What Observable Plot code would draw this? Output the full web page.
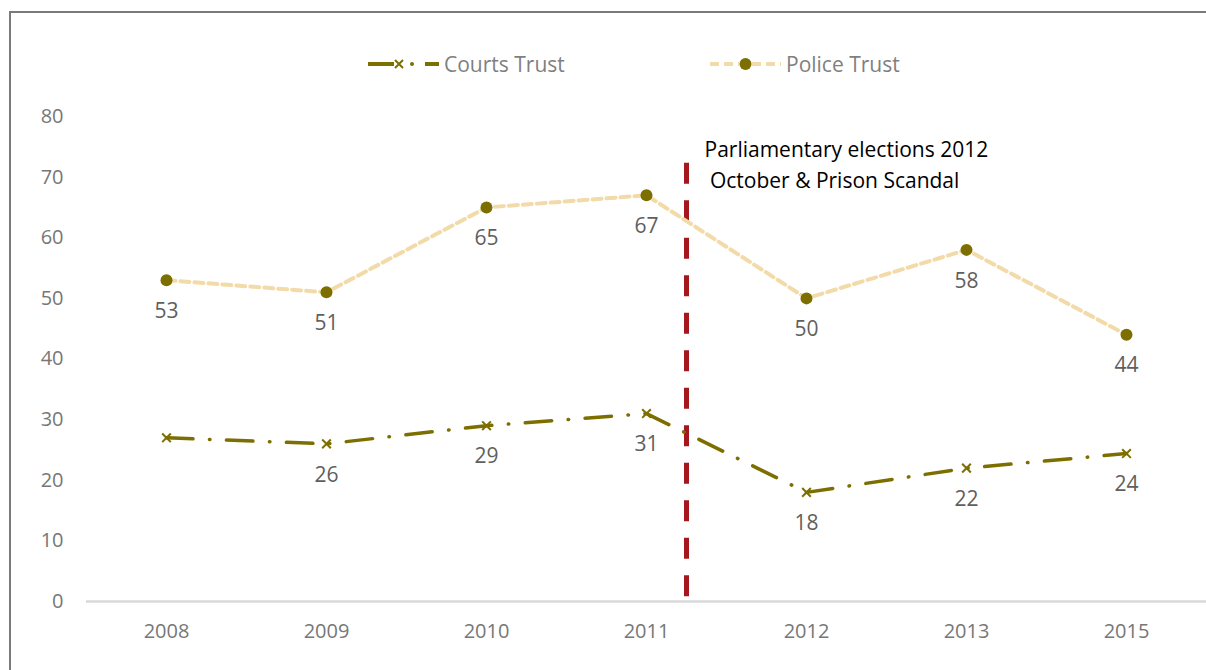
<!DOCTYPE html>
<html>
<head>
<meta charset="utf-8">
<script src="https://cdn.jsdelivr.net/npm/d3@7"></script>
<script src="https://cdn.jsdelivr.net/npm/@observablehq/plot@0.6"></script>
<style>
  html, body { margin: 0; padding: 0; background: #fff; overflow: hidden; }
  #wrap { position: relative; width: 1206px; height: 670px; overflow: hidden; font-family: "Open Sans", sans-serif; }
  #frame { position: absolute; left: 0; top: 0; }
  #chart { position: absolute; left: 0; top: 0; }
  .leg { position: absolute; top: 50px; display: flex; align-items: center; font-size: 21px; color: #7f7f7f; }
  .leg svg { display: block; margin-right: 3px; }
</style>
</head>
<body>
<div id="wrap">
  <svg id="frame" width="1206" height="670"><path d="M10,670V12H1206" fill="none" stroke="#7a7a7a" stroke-width="2"/></svg>
  <div id="chart"></div>
  <div class="leg" id="legCourts" style="left:366px"></div>
  <div class="leg" id="legPolice" style="left:708px"></div>
</div>
<script>
// ---- data ----
const years = ["2008", "2009", "2010", "2011", "2012", "2013", "2015"];
const courtsTrust = [27, 26, 29, 31, 18, 22, 24.4];
const policeTrust = [53, 51, 65, 67, 50, 58, 44];
const courtsLabels = ["", "26", "29", "31", "18", "22", "24"];
const policeLabels = ["53", "51", "65", "67", "50", "58", "44"];
const yTicks = [0, 10, 20, 30, 40, 50, 60, 70, 80];
const seriesNames = ["Courts Trust", "Police Trust"];
// event marker: between 2011 and 2012 (October 2012)
const eventPos = [3.25];
const eventSpan = [72.3, 0.6];
const eventText = ["Parliamentary elections 2012\n\u00a0October & Prison Scandal"];
const eventTextY = [72.4];

// ---- styles ----
const olive = "#7d6e00";
const tan = "#f2dba9";
const red = "#a3171d";

const idx = years.map((_, i) => i);
const rows = years.map((yr, i) => ({
  i, yr,
  courts: courtsTrust[i], police: policeTrust[i],
  cl: courtsLabels[i], pl: policeLabels[i]
}));

const chart = Plot.plot({
  width: 1206,
  height: 670,
  marginLeft: 86,
  marginRight: 0,
  marginTop: 116,
  marginBottom: 69,
  style: { fontFamily: "Open Sans, sans-serif", fontSize: "20px", color: "#777", background: "transparent" },
  x: { type: "linear", domain: [-0.5, years.length - 0.5] },
  y: { domain: [0, 80] },
  marks: [
    Plot.axisX({ ticks: idx, tickFormat: i => years[i], tickSize: 0, tickPadding: 22, label: null, fontSize: 20, fill: "#777" }),
    Plot.axisY({ ticks: yTicks, tickSize: 0, tickPadding: 23, label: null, fontSize: 20, fill: "#777" }),
    Plot.ruleY([0], { stroke: "#d9d9d9", strokeWidth: 2.5 }),
    Plot.ruleX(eventPos, { x: d => d, y1: eventSpan[0], y2: eventSpan[1], stroke: red, strokeWidth: 5, strokeDasharray: "21 16.5" }),
    // police
    Plot.line(rows, { x: "i", y: "police", stroke: tan, strokeWidth: 4, strokeDasharray: "9 5" }),
    Plot.dot(rows, { x: "i", y: "police", r: 6, fill: olive, stroke: "none" }),
    Plot.text(rows, { x: "i", y: "police", text: "pl", dy: 31, fill: "#5f5f5f", fontSize: 21 }),
    // courts
    Plot.line(rows, { x: "i", y: "courts", stroke: olive, strokeWidth: 3.5, strokeLinecap: "round", strokeDasharray: "26.5 16.5 0.5 16.5" }),
    Plot.dot(rows, { x: "i", y: "courts", r: 4, symbol: "times", stroke: olive, strokeWidth: 2 }),
    Plot.text(rows, { x: "i", y: "courts", text: "cl", dy: 31, fill: "#5f5f5f", fontSize: 21 }),
    // annotation
    Plot.text(eventText, { x: eventPos[0], y: eventTextY[0], text: d => d, textAnchor: "start", dx: 18, lineAnchor: "middle", lineHeight: 1.5, fill: "#000", fontSize: 21 })
  ]
});
document.getElementById("chart").appendChild(chart);

// ---- legend (HTML) ----
function legendSwatch(kind) {
  const ns = "http://www.w3.org/2000/svg";
  const s = document.createElementNS(ns, "svg");
  s.setAttribute("width", 75); s.setAttribute("height", 20);
  if (kind === 0) {
    s.innerHTML =
      `<line x1="2" y1="10" x2="28" y2="10" stroke="${olive}" stroke-width="4"/>` +
      `<path d="M29,6L37,14M37,6L29,14" stroke="${olive}" stroke-width="2"/>` +
      `<circle cx="46" cy="10" r="2" fill="${olive}"/>` +
      `<line x1="59" y1="10" x2="73" y2="10" stroke="${olive}" stroke-width="4"/>`;
  } else {
    s.innerHTML =
      `<line x1="2" y1="10" x2="31" y2="10" stroke="${tan}" stroke-width="4" stroke-dasharray="9 5"/>` +
      `<line x1="44" y1="10" x2="73" y2="10" stroke="${tan}" stroke-width="4" stroke-dasharray="9 5"/>` +
      `<circle cx="37.5" cy="10" r="6" fill="${olive}"/>`;
  }
  return s;
}
["legCourts", "legPolice"].forEach((id, k) => {
  const el = document.getElementById(id);
  el.appendChild(legendSwatch(k));
  const sp = document.createElement("span");
  sp.textContent = seriesNames[k];
  el.appendChild(sp);
});
</script>
</body>
</html>
